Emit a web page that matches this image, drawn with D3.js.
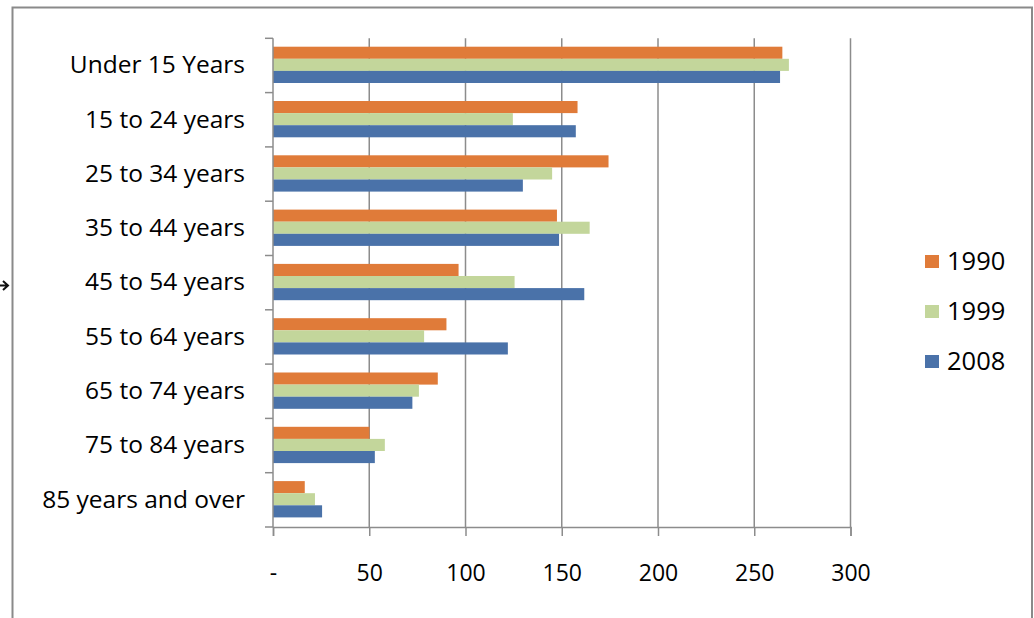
<!DOCTYPE html>
<html>
<head>
<meta charset="utf-8">
<script src="https://d3js.org/d3.v7.min.js"></script>
<style>
body { margin: 0; background: white; }
svg text { font-family: 'Open Sans', sans-serif; fill: #000; }
</style>
</head>
<body>
<svg width="1034" height="618"></svg>
<script>
// age groups, top to bottom
const ageGroups = ["Under 15 Years", "15 to 24 years", "25 to 34 years", "35 to 44 years",
  "45 to 54 years", "55 to 64 years", "65 to 74 years", "75 to 84 years", "85 years and over"];
const years = ["1990", "1999", "2008"];
const values1990 = [264.6, 158.2, 174.3, 147.5, 96.4, 90.1, 85.6, 50.1, 16.5];
const values1999 = [268.0, 124.6, 145.0, 164.5, 125.5, 78.5, 75.8, 58.1, 21.8];
const values2008 = [263.4, 157.3, 129.8, 148.6, 161.7, 122.0, 72.4, 52.9, 25.5];
const xTicks = [0, 50, 100, 150, 200, 250, 300];
const colors = ["#E07B39", "#C3D69B", "#4A72A9"];

const svg = d3.select("svg");

// outer frame
svg.append("path")
  .attr("d", "M12.5,618 V7.5 H1032 V618")
  .attr("fill", "none")
  .attr("stroke", "#8a8a8a")
  .attr("stroke-width", 2);

// little arrow at the left edge
svg.append("path")
  .attr("d", "M0,285.5 H8 M3,281 L8,285.5 L3,290")
  .attr("fill", "none")
  .attr("stroke", "#111")
  .attr("stroke-width", 2);

const plotL = 273, plotR = 850.5, plotT = 38.3, plotB = 527;

const x = d3.scaleLinear().domain([0, 300]).range([plotL, plotR]);
const y = d3.scaleBand().domain(ageGroups).range([plotT, plotB]).paddingInner(0).paddingOuter(0);
const inner = d3.scaleBand().domain(years).range([8.4, y.bandwidth() - 9.6]);

// gridlines
svg.append("g")
  .selectAll("line")
  .data(xTicks.slice(1))
  .join("line")
  .attr("x1", d => x(d)).attr("x2", d => x(d))
  .attr("y1", plotT).attr("y2", plotB)
  .attr("stroke", "#8c8c8c")
  .attr("stroke-width", 1.5);

// bars
const rows = ageGroups.map((g, i) => ({ group: g, vals: [values1990[i], values1999[i], values2008[i]] }));
svg.append("g")
  .selectAll("g")
  .data(rows)
  .join("g")
  .attr("transform", d => `translate(0,${y(d.group)})`)
  .selectAll("rect")
  .data(d => d.vals.map((v, j) => ({ year: years[j], v: v, c: colors[j] })))
  .join("rect")
  .attr("x", x(0))
  .attr("y", d => inner(d.year))
  .attr("width", d => x(d.v) - x(0))
  .attr("height", inner.bandwidth())
  .attr("fill", d => d.c);

// y axis
const yAxis = svg.append("g")
  .attr("transform", `translate(${plotL},0)`)
  .call(d3.axisLeft(y).tickSize(0).tickPadding(28));
yAxis.select(".domain").remove();
yAxis.selectAll("text").style("font-size", "24.5px");
svg.append("line")
  .attr("x1", plotL).attr("x2", plotL).attr("y1", plotT).attr("y2", plotB)
  .attr("stroke", "#8c8c8c").attr("stroke-width", 1.5);
// category tick marks at band boundaries
const bounds = ageGroups.map(g => y(g)).concat([plotB]);
svg.append("g")
  .selectAll("line")
  .data(bounds)
  .join("line")
  .attr("x1", plotL - 8).attr("x2", plotL)
  .attr("y1", d => d).attr("y2", d => d)
  .attr("stroke", "#8c8c8c").attr("stroke-width", 1.5);

// x axis
const xAxis = svg.append("g")
  .attr("transform", `translate(0,${plotB})`)
  .call(d3.axisBottom(x).tickValues(xTicks).tickSize(9).tickPadding(29)
    .tickFormat(d => d === 0 ? "-" : d));
xAxis.select(".domain").attr("stroke", "#8c8c8c").attr("stroke-width", 1.5);
xAxis.selectAll(".tick line").attr("stroke", "#8c8c8c").attr("stroke-width", 1.5);
xAxis.selectAll("text").style("font-size", "23px");

// legend
const legend = svg.append("g")
  .selectAll("g")
  .data(years)
  .join("g")
  .attr("transform", (d, i) => `translate(925,${255 + i * 50})`);
legend.append("rect")
  .attr("width", 14).attr("height", 13)
  .attr("fill", (d, i) => colors[i]);
legend.append("text")
  .attr("x", 22).attr("y", 6.5).attr("dy", "0.35em")
  .style("font-size", "25.5px")
  .text(d => d);
</script>
</body>
</html>
